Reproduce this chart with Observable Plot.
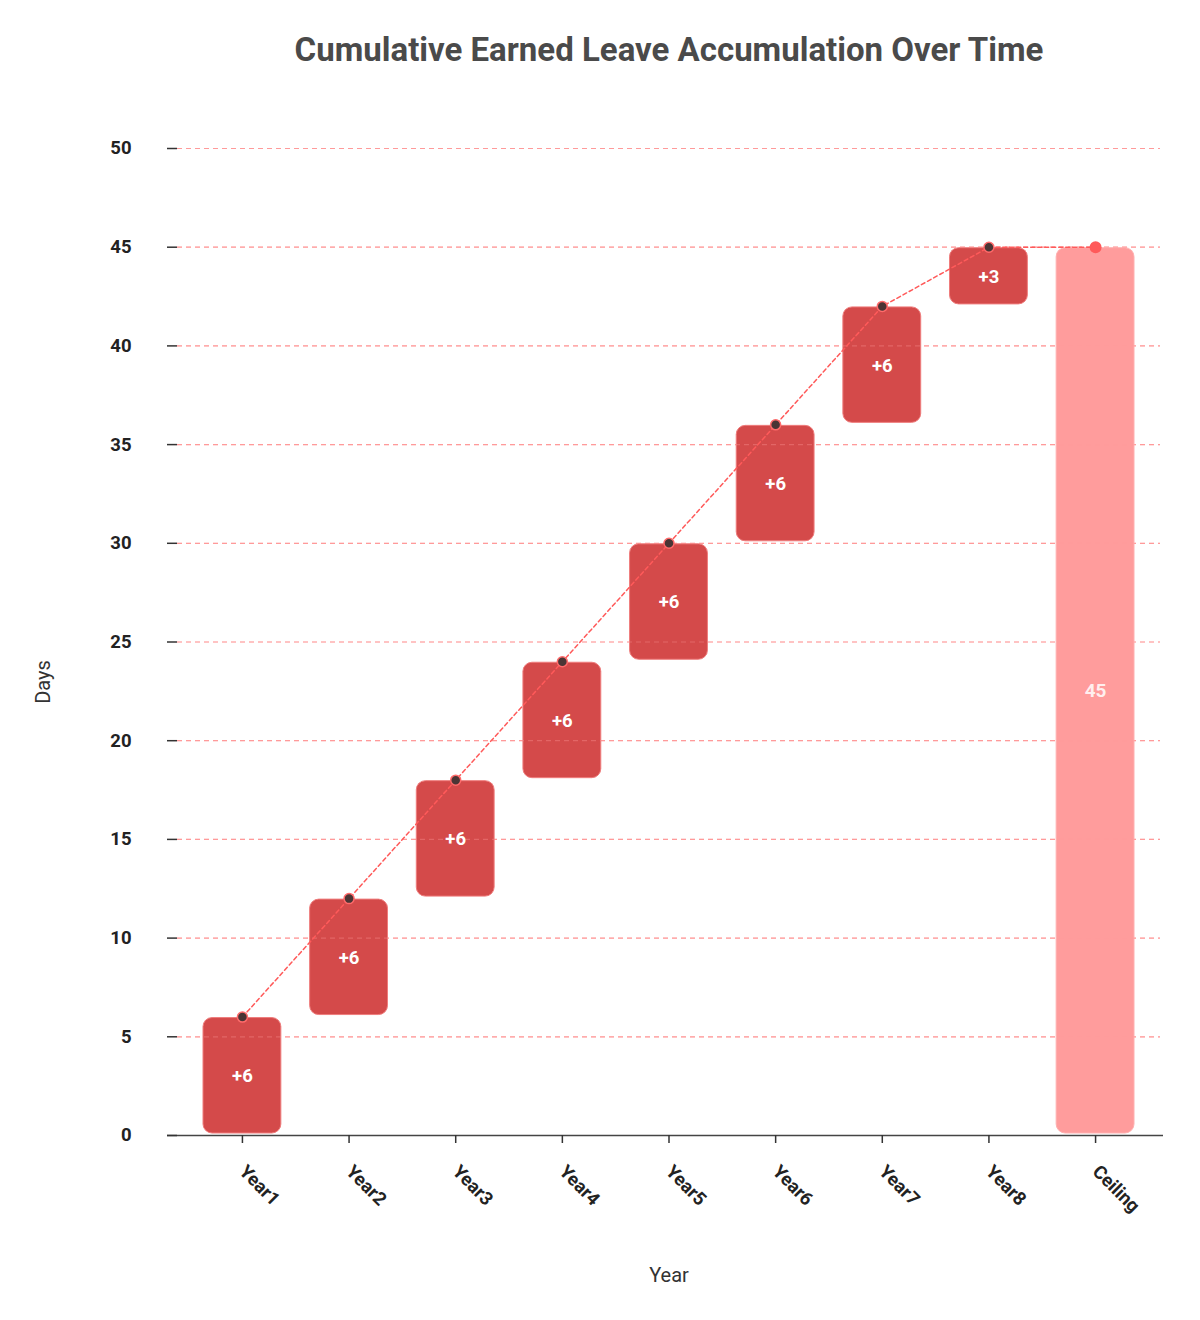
<!DOCTYPE html>
<html>
<head>
<meta charset="utf-8">
<script src="https://cdn.jsdelivr.net/npm/d3@7"></script>
<script src="https://cdn.jsdelivr.net/npm/@observablehq/plot@0.6"></script>
<style>
  body { margin: 0; background: #fff; font-family: Roboto, sans-serif; }
  #title { width: 1200px; box-sizing: border-box; padding-left: 138px; height: 100px; line-height: 100px; text-align: center; font-size: 33px; font-weight: 700; color: #4a4a4a; }
</style>
</head>
<body>
<div id="title">Cumulative Earned Leave Accumulation Over Time</div>
<div id="chart"></div>
<script>
const years = ["Year1", "Year2", "Year3", "Year4", "Year5", "Year6", "Year7", "Year8"];
const increments = [6, 6, 6, 6, 6, 6, 6, 3];
const ceilingLabel = "Ceiling";
const ceilingValue = 45;
const yTicks = [0, 5, 10, 15, 20, 25, 30, 35, 40, 45, 50];
const xLabel = "Year";
const yLabel = "Days";

// Build waterfall rows
let running = 0;
const steps = years.map((y, i) => {
  const start = running;
  running += increments[i];
  return { cat: y, start, end: running, label: "+" + increments[i] };
});
const ceilingRow = { cat: ceilingLabel, start: 0, end: ceilingValue, label: String(ceilingValue) };
const linePts = [...steps.map(d => ({ cat: d.cat, v: d.end })), { cat: ceilingLabel, v: ceilingValue }];
const domain = [...years, ceilingLabel];

const chart = Plot.plot({
  width: 1200,
  height: 1220,
  marginTop: 48,
  marginBottom: 185,
  marginLeft: 177,
  marginRight: 37,
  style: { fontFamily: "Roboto, sans-serif", fontSize: "18px", color: "#222", background: "#fff" },
  x: { domain, range: [203, 1134], paddingInner: 0.27, paddingOuter: 0, round: false, label: null },
  y: { domain: [0, 50], label: null },
  marks: [
    Plot.ruleY(yTicks, { stroke: "#ff9a9a", strokeDasharray: "5,4", strokeWidth: 1.2, insetRight: 3 }),
    Plot.barY(steps, { x: "cat", y1: "start", y2: "end", fill: "#d44a4a", stroke: "#ef7c7c", strokeWidth: 1, rx: 9, insetTop: 1, insetBottom: 2 }),
    Plot.barY([ceilingRow], { x: "cat", y1: "start", y2: "end", fill: "#ff9c9c", stroke: "#ffb0b0", strokeWidth: 1, rx: 9, insetTop: 1, insetBottom: 2 }),
    Plot.ruleY(yTicks.filter(t => t > 0), { stroke: "#ff9a9a", strokeOpacity: 0.35, strokeDasharray: "5,4", strokeWidth: 1.2, insetRight: 3 }),
    Plot.ruleY([0], { stroke: "#444", strokeWidth: 1.5, insetLeft: -10 }),
    Plot.line(linePts, { x: "cat", y: "v", stroke: "#ff5a5a", strokeWidth: 1.5, strokeDasharray: "4,3" }),
    Plot.dot(steps, { x: "cat", y: "end", r: 5, fill: "#4a3535", stroke: "#ff6b6b", strokeWidth: 1.5 }),
    Plot.dot([ceilingRow], { x: "cat", y: "end", r: 6, fill: "#ff5a5a", stroke: "none" }),
    Plot.text(steps, { x: "cat", y: d => (d.start + d.end) / 2, text: "label", fill: "#fff", fontWeight: 700, fontSize: 18.5 }),
    Plot.text([ceilingRow], { x: "cat", y: d => (d.start + d.end) / 2, text: "label", fill: "#fff", fillOpacity: 0.85, fontWeight: 700, fontSize: 19 }),
    Plot.axisY({ ticks: yTicks, tickSize: 10, tickPadding: 36, fontWeight: 700, fontSize: 18.5, stroke: "#333", strokeWidth: 1.5, label: null }),
    Plot.axisX({ tickSize: 8, tickPadding: 25, tickRotate: 45, fontWeight: 700, fontSize: 18.5, stroke: "#333", strokeWidth: 1.5, label: null })
  ]
});

document.getElementById("chart").appendChild(chart);

const svg = d3.select(chart);
svg.append("text")
  .attr("x", 669).attr("y", 1177)
  .attr("text-anchor", "middle").attr("dominant-baseline", "middle")
  .attr("font-size", 20).attr("fill", "#333").attr("font-family", "Roboto, sans-serif")
  .text(xLabel);
svg.append("text")
  .attr("transform", "translate(45,582) rotate(-90)")
  .attr("text-anchor", "middle").attr("dominant-baseline", "middle")
  .attr("font-size", 20).attr("fill", "#333").attr("font-family", "Roboto, sans-serif")
  .text(yLabel);
</script>
</body>
</html>
